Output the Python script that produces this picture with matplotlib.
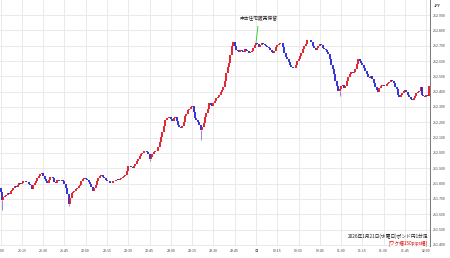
import matplotlib
matplotlib.use('Agg')
import matplotlib.pyplot as plt

plt.rcParams['font.family'] = ['Noto Sans CJK JP', 'DejaVu Sans']

# ---- data (GBP/JPY 1-minute closes, 21:00 -> 02:02) ----
start_open = 211.770
closes = [
    211.745, 211.690, 211.715, 211.722, 211.728, 211.738, 211.733, 211.752, 211.760, 211.771, 211.785, 211.778, 211.794, 211.801, 211.797,
    211.806, 211.815, 211.820, 211.812, 211.808, 211.796, 211.788, 211.766, 211.789, 211.803, 211.818, 211.835, 211.851, 211.864, 211.868,
    211.852, 211.828, 211.815, 211.804, 211.826, 211.845, 211.840, 211.836, 211.812, 211.805, 211.824, 211.820, 211.815, 211.822, 211.817,
    211.798, 211.772, 211.735, 211.668, 211.705, 211.738, 211.745, 211.752, 211.764, 211.772, 211.785, 211.794, 211.818, 211.829, 211.838,
    211.832, 211.822, 211.810, 211.800, 211.779, 211.754, 211.770, 211.792, 211.815, 211.838, 211.850, 211.858, 211.846, 211.838, 211.826,
    211.820, 211.816, 211.806, 211.803, 211.815, 211.818, 211.822, 211.826, 211.824, 211.831, 211.838, 211.843, 211.848, 211.855, 211.880,
    211.912, 211.918, 211.910, 211.903, 211.915, 211.928, 211.950, 211.962, 211.978, 211.990, 212.001, 212.010, 212.014, 212.006, 211.992,
    211.958, 211.975, 211.996, 212.004, 212.010, 212.014, 212.040, 212.072, 212.105, 212.140, 212.178, 212.215, 212.226, 212.230, 212.236,
    212.222, 212.208, 212.228, 212.235, 212.210, 212.185, 212.168, 212.162, 212.176, 212.200, 212.238, 212.256, 212.278, 212.290, 212.300,
    212.308, 212.265, 212.228, 212.212, 212.204, 212.185, 212.150, 212.172, 212.196, 212.236, 212.262, 212.284, 212.326, 212.312, 212.305,
    212.326, 212.342, 212.358, 212.366, 212.380, 212.398, 212.410, 212.428, 212.470, 212.520, 212.560, 212.590, 212.638, 212.700, 212.722,
    212.698, 212.672, 212.668, 212.660, 212.675, 212.668, 212.660, 212.676, 212.670, 212.662, 212.650, 212.658, 212.668, 212.684, 212.705,
    212.716, 212.708, 212.692, 212.705, 212.718, 212.712, 212.706, 212.698, 212.694, 212.686, 212.672, 212.660, 212.652, 212.668, 212.690,
    212.702, 212.714, 212.720, 212.716, 212.690, 212.655, 212.628, 212.610, 212.592, 212.575, 212.562, 212.556, 212.552, 212.572, 212.598,
    212.612, 212.630, 212.655, 212.676, 212.698, 212.712, 212.735, 212.740, 212.734, 212.726, 212.700, 212.688, 212.672, 212.684, 212.698,
    212.712, 212.705, 212.688, 212.676, 212.670, 212.660, 212.645, 212.610, 212.575, 212.550, 212.515, 212.470, 212.440, 212.405, 212.420,
    212.436, 212.444, 212.424, 212.440, 212.472, 212.498, 212.512, 212.526, 212.522, 212.530, 212.550, 212.582, 212.612, 212.600, 212.585,
    212.574, 212.552, 212.536, 212.518, 212.495, 212.490, 212.504, 212.480, 212.455, 212.428, 212.410, 212.398, 212.425, 212.436, 212.444,
    212.438, 212.434, 212.452, 212.458, 212.462, 212.476, 212.470, 212.455, 212.432, 212.415, 212.380, 212.362, 212.375, 212.392, 212.404,
    212.410, 212.396, 212.380, 212.362, 212.350, 212.345, 212.358, 212.372, 212.390, 212.398, 212.405, 212.432, 212.380, 212.372, 212.366,
    212.378, 212.372, 212.440,
]
wick_lows = {1: 211.628, 48: 211.655, 105: 211.948, 141: 212.085, 239: 212.372}

x_tick_minutes = list(range(0, 301, 15))
x_tick_labels = ['21:00', '21:15', '21:30', '21:45', '22:00', '22:15', '22:30', '22:45',
                 '23:00', '23:15', '23:30', '23:45', '日', '00:15', '00:30', '00:45',
                 '01:00', '01:15', '01:30', '01:45', '02:00']
y_ticks = [211.4, 211.5, 211.6, 211.7, 211.8, 211.9, 212.0, 212.1,
           212.2, 212.3, 212.4, 212.5, 212.6, 212.7, 212.8, 212.9]

event_minute = 180
event_label = '中古住宅販売保留'
caption = '2026年1月21日(水曜日)ポンド円1分足'
range_note = '[ワク幅150pips幅]'

# ---- figure ----
fig = plt.figure(figsize=(4.5, 2.58), dpi=100)
ax = fig.add_axes([0.0, 12/258, 430/450, 246/258])

RED = '#e0141e'
BLUE = '#2222d6'

opens = [start_open] + closes[:-1]
for m, (o, c) in enumerate(zip(opens, closes)):
    col = RED if c >= o else BLUE
    lo, hi = min(o, c), max(o, c)
    if hi - lo < 0.004:
        hi = lo + 0.004
    if m in wick_lows:
        ax.vlines(m, wick_lows[m], lo, color='#8a6fd0', lw=0.6, zorder=2)
    ax.vlines(m, lo, hi, color=col, lw=1.3, zorder=3)

ax.set_xlim(-0.4, 302.6)
ax.set_ylim(211.393, 212.998)

ax.set_xticks(x_tick_minutes)
ax.set_xticklabels(x_tick_labels)
ax.set_yticks(y_ticks)
ax.set_yticklabels([f'{v:.3f}' for v in y_ticks])
ax.yaxis.tick_right()
ax.tick_params(axis='both', length=0, labelsize=2.6, labelcolor='#444444')
ax.tick_params(axis='x', pad=2.5)
ax.tick_params(axis='y', pad=2.0)

ax.grid(True, color='#e6e6e6', lw=0.6)
ax.set_axisbelow(True)
for s in ['top', 'left', 'bottom']:
    ax.spines[s].set_visible(False)
ax.spines['right'].set_color('#777777')
ax.spines['right'].set_linewidth(0.7)

# event annotation
ev_price = closes[event_minute]
ax.annotate(event_label, xy=(event_minute, ev_price + 0.003),
            xytext=(event_minute + 2.0, 212.88), textcoords='data',
            ha='center', va='center', fontsize=3.4, color='#222222',
            arrowprops=dict(arrowstyle='-', color='#22cc22', lw=0.6,
                            shrinkA=2.0, shrinkB=0))

fig.text(437/450, 1 - 6/258, 'JPY', fontsize=2.6, color='#333333',
         ha='center', va='center', fontweight='bold')
fig.text(428/450, 1 - 236/258, caption, fontsize=3.4, color='#222222',
         ha='right', va='center')
fig.text(428/450, 1 - 243/258, range_note, fontsize=3.4, color='#e00000',
         ha='right', va='center')

fig.savefig('out.png', dpi=100)
